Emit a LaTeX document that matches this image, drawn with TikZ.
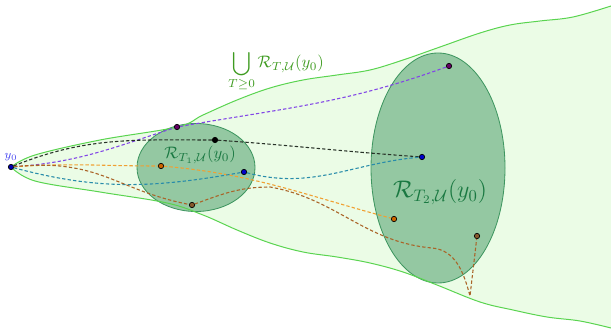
\documentclass[tikz,border=0pt]{standalone}
\usepackage{amsmath,amssymb}
\usepackage{xcolor}
\usepackage{tikz}
\usetikzlibrary{arrows.meta,positioning,shapes.geometric,calc}

\definecolor{tubefill}{RGB}{235,252,230}
\definecolor{tubeline}{RGB}{90,212,80}
\definecolor{setfill}{RGB}{148,200,162}
\definecolor{setline}{RGB}{62,150,96}
\definecolor{setlbl}{RGB}{25,120,65}
\definecolor{unionlbl}{RGB}{62,155,32}
\definecolor{ylbl}{RGB}{70,70,240}
\definecolor{cpurple}{RGB}{130,70,230}
\definecolor{cblack}{RGB}{40,50,40}
\definecolor{cteal}{RGB}{40,140,170}
\definecolor{corange}{RGB}{240,160,50}
\definecolor{cbrown}{RGB}{170,100,40}

\begin{document}
\begin{tikzpicture}[
x=0.6pt,
y=-0.6pt,
every node/.style={font=\normalsize},
tube/.style={draw=none,fill=tubefill},
tubeedge/.style={draw=tubeline,line width=0.6pt},
reach/.style={ellipse,draw=setline,fill=setfill,line width=0.5pt,inner sep=0pt},
traj/.style={line width=0.65pt,dash pattern=on 2pt off 1.3pt},
pt/.style={circle,draw=black,line width=0.4pt,inner sep=0pt,minimum size=3.2pt},
lbl/.style={inner sep=1pt}
]
\useasboundingbox (0,0) rectangle (611,329);

% funnel of all reachable states
\fill[tube] plot[smooth,tension=0.6] coordinates {(11,167) (35,155) (100,140) (177,127) (203,115) (237,100) (270,88) (303,80) (337,75) (370,70) (403,60) (440,47) (480,33) (510,25) (540,21) (573,17) (611,6)}
  -- (611,329) -- plot[smooth,tension=0.6] coordinates {(611,328) (580,321) (547,317) (513,310) (480,302) (437,285) (403,272) (370,263) (337,257) (303,252) (270,243) (237,230) (203,215) (167,203) (100,192) (35,181) (11,167)} -- cycle;

\node[reach,minimum width=70.8pt,minimum height=52.8pt] (reach1) at (196,167.5) {};
\node[reach,minimum width=80.4pt,minimum height=138pt] (reach2) at (438,168) {};

\draw[tubeedge] plot[smooth,tension=0.6] coordinates {(11,167) (35,155) (100,140) (177,127) (203,115) (237,100) (270,88) (303,80) (337,75) (370,70) (403,60) (440,47) (480,33) (510,25) (540,21) (573,17) (611,6)};
\draw[tubeedge] plot[smooth,tension=0.6] coordinates {(11,167) (35,181) (100,192) (167,203) (203,215) (237,230) (270,243) (303,252) (337,257) (370,263) (403,272) (437,285) (480,302) (513,310) (547,317) (580,321) (611,328)};

% points
\node[pt,fill=blue!70!black] (y0) at (11,167) {};
\node[pt,fill=violet!80!black] (p1) at (177,127) {};
\node[pt,fill=violet!80!black] (p2) at (449,66) {};
\node[pt,fill=black] (k1) at (215,140) {};
\node[pt,fill=blue!80!black] (k2) at (422,157) {};
\node[pt,fill=orange!80!black] (o1) at (161,166) {};
\node[pt,fill=orange!80!black] (o2) at (394,219) {};
\node[pt,fill=blue!80!black] (t1) at (244,172) {};
\node[pt,fill=brown!70!black] (b1) at (192,205) {};
\node[pt,fill=brown!70!black] (b2) at (477,236) {};
\coordinate (bpeak) at (270,187);
\coordinate (bdip) at (432,248);
\coordinate (bbot) at (470,296);

% trajectories
\draw[traj,cpurple] (y0) to[out=4,in=198] (p1);
\draw[traj,cpurple] (p1) to[out=10,in=200] (p2);
\draw[traj,cblack] (y0) to[out=22,in=180] (k1);
\draw[traj,cblack] (k1) to[out=-4,in=176] (k2);
\draw[traj,corange] (y0) to[out=4,in=180] (o1);
\draw[traj,corange] (o1) to[out=-5,in=165] (o2);
\draw[traj,cteal] (y0) to[out=-15,in=190] (t1);
\draw[traj,cteal] (t1) to[out=-15,in=185] (k2);
\draw[traj,cbrown] (y0) .. controls (100,158) and (115,190) .. (b1);
\draw[traj,cbrown] (b1) to[out=20,in=180] (bpeak) to[out=-10,in=175] (bdip)
  to[out=-5,in=105] (bbot) -- (b2);

% labels
\node[lbl,font=\scriptsize,text=ylbl,above=0.5pt of y0] (y0lbl) {$y_0$};
\node[lbl,text=setlbl] (lbl1) at (200,155) {$\mathcal{R}_{T_1,\mathcal{U}}(y_0)$};
\node[lbl,text=setlbl,font=\Large] (lbl2) at (440,192) {$\mathcal{R}_{T_2,\mathcal{U}}(y_0)$};
\node[lbl,text=unionlbl] (lblu) at (276,71) {$\displaystyle\bigcup_{T\geq 0}\mathcal{R}_{T,\mathcal{U}}(y_0)$};
\end{tikzpicture}
\end{document}
